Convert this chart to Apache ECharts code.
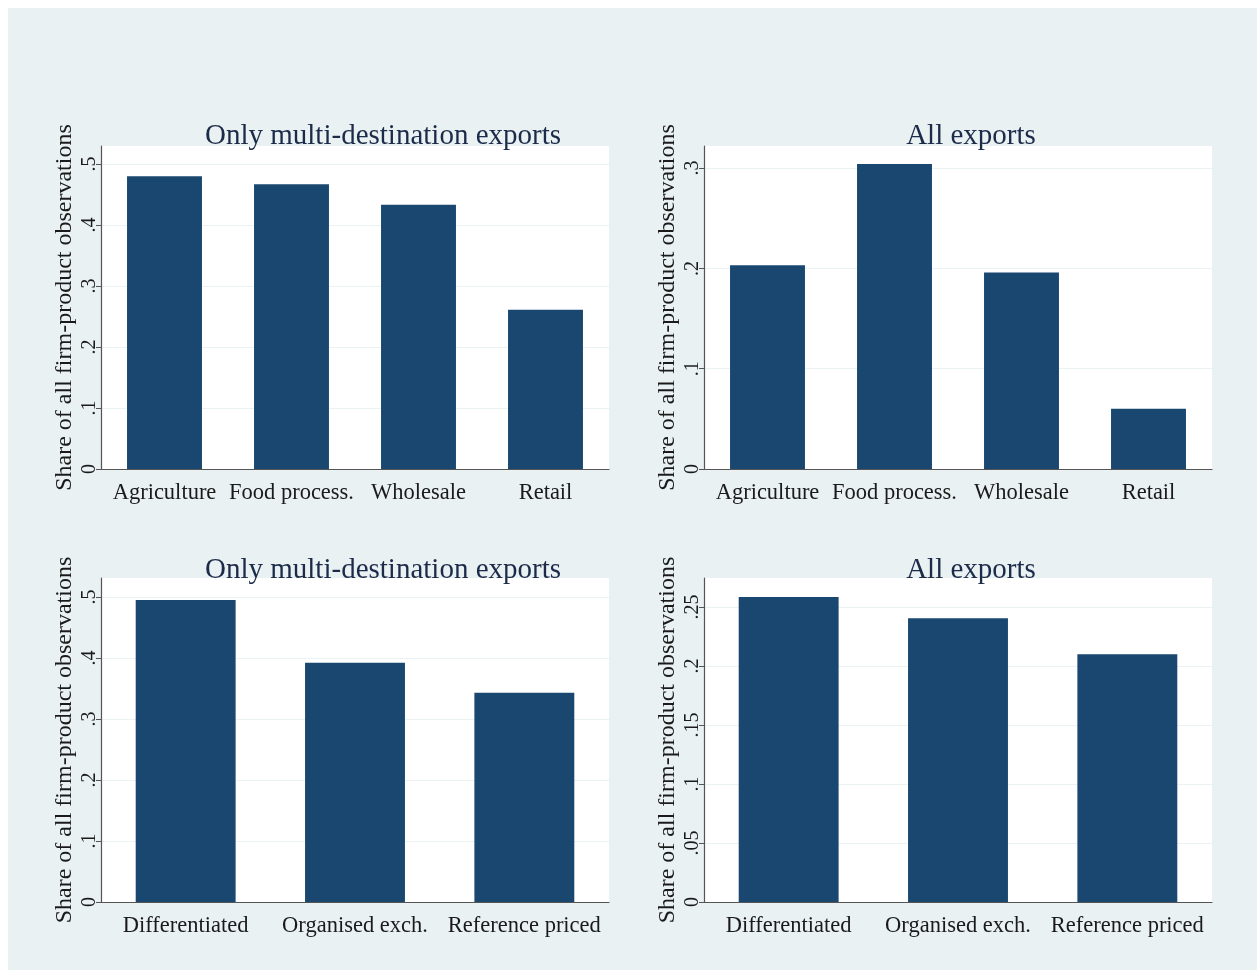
<!DOCTYPE html>
<html>
<head>
<meta charset="utf-8">
<script src="https://cdn.jsdelivr.net/npm/echarts@6/dist/echarts.min.js"></script>
<style>
  html, body { margin: 0; padding: 0; background: #ffffff; }
  #bg { position: absolute; left: 8px; top: 8px; width: 1249px; height: 962px; background: #e9f1f3; }
  #chart { position: absolute; left: 0; top: 0; width: 1257px; height: 974px; }
</style>
</head>
<body>
<div id="bg"></div>
<div id="chart"></div>
<script>
// ---- data ----
const sectorCats = ['Agriculture', 'Food process.', 'Wholesale', 'Retail'];
const multiSector = [0.480, 0.467, 0.433, 0.261];
const allSector = [0.203, 0.304, 0.196, 0.060];
const productCats = ['Differentiated', 'Organised exch.', 'Reference priced'];
const multiProduct = [0.495, 0.392, 0.343];
const allProduct = [0.2585, 0.2405, 0.210];
const ticksMulti = [0, 0.1, 0.2, 0.3, 0.4, 0.5];
const ticksAllSector = [0, 0.1, 0.2, 0.3];
const ticksAllProduct = [0, 0.05, 0.1, 0.15, 0.2, 0.25];
const titleMulti = 'Only multi-destination exports';
const titleAll = 'All exports';
const yTitle = 'Share of all firm-product observations';

const SERIF = '"Liberation Serif", "Times New Roman", serif';
const BAR = '#1a476f';

const fmt = v => { const s = String(+(+v).toFixed(3)); return s.replace(/^0\./, '.'); };

const grids = [
  { left: 101, top: 146, width: 508, height: 323 },
  { left: 704, top: 146, width: 508, height: 323 },
  { left: 101, top: 578, width: 508, height: 324 },
  { left: 704, top: 578, width: 508, height: 324 }
];
const panels = [
  { cats: sectorCats, vals: multiSector, ticks: ticksMulti, max: 0.5295, interval: 0.1, title: titleMulti, tx: 378, ty: 117 },
  { cats: sectorCats, vals: allSector, ticks: ticksAllSector, max: 0.322, interval: 0.1, title: titleAll, tx: 966, ty: 117 },
  { cats: productCats, vals: multiProduct, ticks: ticksMulti, max: 0.531, interval: 0.1, title: titleMulti, tx: 378, ty: 551 },
  { cats: productCats, vals: allProduct, ticks: ticksAllProduct, max: 0.2746, interval: 0.05, title: titleAll, tx: 966, ty: 551 }
];

const option = {
  animation: false,
  backgroundColor: 'transparent',
  title: panels.map(p => ({
    text: p.title, left: p.tx, top: p.ty, textAlign: 'center',
    textStyle: { fontFamily: SERIF, fontSize: 29, fontWeight: 'normal', color: '#1c2b49' }
  })),
  grid: grids.map(g => Object.assign({ show: true, backgroundColor: '#ffffff', borderWidth: 0 }, g)),
  xAxis: panels.map((p, i) => ({
    type: 'category', gridIndex: i, data: p.cats,
    axisLine: { lineStyle: { color: '#555555', width: 1.2 } },
    axisTick: { show: false },
    axisLabel: { fontFamily: SERIF, fontSize: 22.5, color: '#1a1a1a', margin: 13, interval: 0 }
  })),
  yAxis: panels.map((p, i) => ({
    type: 'value', gridIndex: i, min: 0, max: p.max, interval: p.interval,
    name: yTitle, nameLocation: 'middle', nameGap: 24,
    nameTextStyle: { fontFamily: SERIF, fontSize: 24, color: '#1a1a1a' },
    axisLine: { show: true, lineStyle: { color: '#555555', width: 1.2 } },
    axisTick: { show: true, length: 5, lineStyle: { color: '#555555' }, customValues: p.ticks },
    axisLabel: { rotate: 90, fontFamily: SERIF, fontSize: 20, color: '#1a1a1a', margin: 1,
      customValues: p.ticks, formatter: v => fmt(v) },
    splitLine: { show: true, lineStyle: { color: '#eaf2f3', width: 1 } }
  })),
  series: panels.map((p, i) => ({
    type: 'bar', xAxisIndex: i, yAxisIndex: i, data: p.vals,
    barWidth: '59%', itemStyle: { color: BAR }
  }))
};

const chart = echarts.init(document.getElementById('chart'), null, { renderer: 'canvas' });
chart.setOption(option);
</script>
</body>
</html>
